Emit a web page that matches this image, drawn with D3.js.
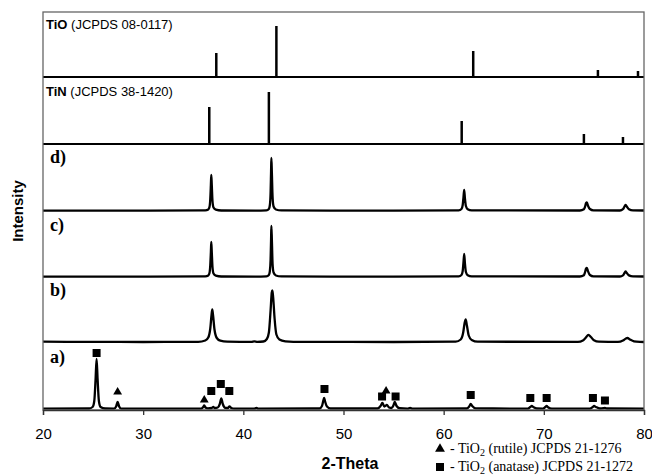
<!DOCTYPE html>
<html>
<head>
<meta charset="utf-8">
<script src="https://cdn.jsdelivr.net/npm/d3@7"></script>
<style>
body { margin: 0; background: #fff; }
svg { display: block; }
</style>
</head>
<body>
<div id="chart"></div>
<script>
// reference patterns (stick lines)
var tioPos = [37.3, 43.3, 62.95, 75.4, 79.4];
var tioInt = [24, 51, 26, 7, 6];
var tinPos = [36.6, 42.55, 61.8, 74.0, 77.9];
var tinInt = [37, 52, 23, 10, 7];

// measured patterns: [2theta, intensity]
var patternD = [[20,0.3],[30,0.4],[36.2,0.6],[36.5,1.5],[36.62,4],[36.7,12],[36.76,26],[36.8,36],[36.85,26],[36.92,10],[37.02,3.5],[37.25,1.3],[37.8,0.5],
  [41.2,0.4],[42.3,0.6],[42.55,2],[42.65,6],[42.72,18],[42.77,40],[42.8,53],[42.85,38],[42.92,14],[43.02,4.5],[43.25,1.5],[43.8,0.6],
  [55,0.4],[61.5,0.6],[61.78,2],[61.9,6],[61.98,14],[62.05,21],[62.12,13],[62.22,5],[62.4,1.8],[62.8,0.6],
  [73.6,0.5],[74.0,1.8],[74.12,4.5],[74.22,8],[74.3,8.5],[74.42,5],[74.6,2],[74.95,0.7],
  [77.6,0.5],[77.9,1.8],[78.05,4.5],[78.15,6],[78.28,4.5],[78.5,1.8],[78.9,0.6],[80,0.5]];

var patternC = [[20,0.3],[30,0.4],[36.2,0.6],[36.5,1.5],[36.62,4],[36.7,12],[36.76,25],[36.8,35],[36.85,25],[36.92,10],[37.02,3.5],[37.25,1.3],[37.8,0.5],
  [41.2,0.4],[42.3,0.6],[42.55,2],[42.65,6],[42.72,17],[42.77,38],[42.8,51],[42.85,37],[42.92,13],[43.02,4.5],[43.25,1.5],[43.8,0.6],
  [55,0.4],[61.5,0.6],[61.78,2],[61.9,6],[61.98,15],[62.05,23],[62.12,14],[62.22,5],[62.4,1.8],[62.8,0.6],
  [73.6,0.5],[74.0,1.8],[74.12,5],[74.22,8.5],[74.3,9],[74.42,5.5],[74.6,2],[74.95,0.7],
  [77.6,0.5],[77.9,1.6],[78.05,4],[78.15,5.5],[78.28,4],[78.5,1.6],[78.9,0.6],[80,0.5]];

var patternB = [[20,0.8],[25,0.6],[30,0.5],[35.5,0.7],[36.2,2],[36.5,5],[36.7,14],[36.82,27],[36.9,33],[36.98,27],[37.12,13],[37.35,4.5],[37.7,1.8],[38.4,0.8],
  [40.8,0.6],[41.1,1.2],[41.4,0.7],[42.0,1],[42.35,3.5],[42.55,10],[42.72,32],[42.84,50],[42.9,52],[42.98,45],[43.12,24],[43.3,8],[43.6,3],[44.2,1.2],[45,0.7],
  [55,0.5],[61.2,0.8],[61.7,3],[61.95,10],[62.1,20],[62.2,23],[62.32,17],[62.5,7],[62.8,2.5],[63.4,0.8],
  [73.4,0.6],[73.9,2],[74.2,5],[74.45,7.7],[74.7,5.5],[75.0,2.2],[75.5,0.8],
  [77.4,0.6],[77.9,2],[78.2,4],[78.35,4.5],[78.6,3],[79.0,1.2],[79.6,0.6],[80,0.5]];

var patternA = [[20,0.3],[24.6,0.5],[24.95,2],[25.12,8],[25.25,30],[25.35,50],[25.45,30],[25.58,8],[25.75,2],[26.2,0.5],
  [27.1,0.4],[27.3,2.5],[27.45,7],[27.6,2.5],[27.8,0.4],
  [35.8,0.4],[36.0,2],[36.1,3.5],[36.22,1.5],[36.45,0.6],[36.85,1],[37.0,2],[37.15,1],[37.45,1.5],[37.65,5],[37.8,10.5],[37.95,5],[38.2,1.2],[38.45,1],[38.62,2.5],[38.8,1],[39.1,0.4],
  [41.1,0.4],[41.3,1.2],[41.5,0.4],
  [47.6,0.5],[47.85,3],[48.0,9],[48.07,11],[48.15,8],[48.35,2.5],[48.7,0.5],
  [53.4,0.5],[53.7,3],[53.88,6],[54.08,2.5],[54.33,4],[54.55,1.5],[54.8,1],[55.0,4],[55.12,7],[55.3,3],[55.6,0.8],
  [56.4,0.4],[56.65,1.2],[56.9,0.4],
  [62.3,0.5],[62.55,2.5],[62.7,5],[62.85,3],[63.2,0.6],
  [68.4,0.4],[68.65,2],[68.8,3],[68.95,2],[69.3,0.5],
  [69.9,0.4],[70.15,2],[70.28,3],[70.42,1.8],[70.8,0.4],
  [74.6,0.4],[74.88,2],[75.02,3],[75.2,2],[75.6,0.5],[75.95,0.8],[76.1,1.2],[76.3,0.5],[80,0.3]];

// phase markers on pattern a: [2theta, height, kind]
var markers = [[25.35,56,"s"],[27.45,18,"t"],[36.1,10,"t"],[36.8,18,"s"],[37.75,25,"s"],[38.6,18,"s"],
  [48.1,20,"s"],[53.85,12.5,"s"],[54.25,19,"t"],[55.2,12.5,"s"],[62.7,14,"s"],
  [68.65,11,"s"],[70.28,11,"s"],[74.9,11,"s"],[76.1,8.5,"s"]];

var xTicks = [20, 30, 40, 50, 60, 70, 80];

var svgWidth = 652, svgHeight = 475;
var margin = {top: 12, right: 8, bottom: 65, left: 43};
var width = svgWidth - margin.left - margin.right;
var height = svgHeight - margin.top - margin.bottom;

var svg = d3.select("#chart").append("svg")
  .attr("width", svgWidth)
  .attr("height", svgHeight);

var chartGroup = svg.append("g")
  .attr("transform", `translate(${margin.left}, ${margin.top})`);

var xScale = d3.scaleLinear().domain([20, 80]).range([0, width]);
var yScale = d3.scaleLinear().domain([0, height]).range([height, 0]);

// stacking offsets for each trace
var offA = 1, offB = 67.5, offC = 133, offD = 199, offTiN = 266, offTiO = 333;

var line = function(off) {
  return d3.line()
    .x(d => xScale(d[0]))
    .y(d => yScale(off + d[1]))
    .curve(d3.curveMonotoneX);
};

[[patternA, offA], [patternB, offB], [patternC, offC], [patternD, offD]].forEach(function(p) {
  chartGroup.append("path")
    .datum(p[0])
    .attr("d", line(p[1]))
    .attr("fill", "none")
    .attr("stroke", "#000")
    .attr("stroke-width", 2.3)
    .attr("stroke-linejoin", "round");
});

// stick panels
function sticks(pos, ints, off) {
  chartGroup.append("line")
    .attr("x1", 0).attr("x2", width)
    .attr("y1", yScale(off)).attr("y2", yScale(off))
    .attr("stroke", "#000").attr("stroke-width", 2.2);
  chartGroup.selectAll(null)
    .data(pos)
    .enter()
    .append("line")
    .attr("x1", d => xScale(d)).attr("x2", d => xScale(d))
    .attr("y1", yScale(off))
    .attr("y2", (d, i) => yScale(off + ints[i]))
    .attr("stroke", "#000").attr("stroke-width", 2.5);
}
sticks(tinPos, tinInt, offTiN);
sticks(tioPos, tioInt, offTiO);

// markers
var sq = 8;
chartGroup.selectAll(".sq")
  .data(markers.filter(d => d[2] == "s"))
  .enter()
  .append("rect")
  .attr("x", d => xScale(d[0]) - sq / 2)
  .attr("y", d => yScale(offA + d[1]) - sq / 2)
  .attr("width", sq).attr("height", sq)
  .attr("fill", "#000");

chartGroup.selectAll(".tri")
  .data(markers.filter(d => d[2] == "t"))
  .enter()
  .append("path")
  .attr("d", d3.symbol().type(d3.symbolTriangle).size(34))
  .attr("transform", d => `translate(${xScale(d[0])}, ${yScale(offA + d[1]) + 1})`)
  .attr("fill", "#000");

// frame
chartGroup.append("rect")
  .attr("width", width).attr("height", height)
  .attr("fill", "none")
  .attr("stroke", "#666").attr("stroke-width", 1.3);

// x axis
var xAxis = d3.axisBottom(xScale).tickValues(xTicks).tickSize(5).tickPadding(13);
var gx = chartGroup.append("g")
  .attr("transform", `translate(0, ${height})`)
  .call(xAxis);
gx.select(".domain").attr("stroke", "#333").attr("stroke-width", 1.3);
gx.selectAll(".tick line").attr("stroke", "#333").attr("stroke-width", 1.3);
gx.selectAll("text")
  .attr("font-family", "Liberation Sans, Arial, sans-serif")
  .attr("font-size", "15px")
  .attr("fill", "#000");

// axis titles
svg.append("text")
  .attr("x", 350).attr("y", 469)
  .attr("text-anchor", "middle")
  .attr("font-family", "Liberation Sans, Arial, sans-serif")
  .attr("font-weight", "bold")
  .attr("font-size", "16px")
  .text("2-Theta");

svg.append("text")
  .attr("transform", "translate(23, 211) rotate(-90)")
  .attr("text-anchor", "middle")
  .attr("font-family", "Liberation Sans, Arial, sans-serif")
  .attr("font-weight", "bold")
  .attr("font-size", "15px")
  .text("Intensity");

// panel titles
var titles = [["TiO", " (JCPDS 08-0117)", 28.5], ["TiN", " (JCPDS 38-1420)", 95.5]];
titles.forEach(function(t) {
  var tx = svg.append("text")
    .attr("x", 46).attr("y", t[2])
    .attr("font-family", "Liberation Sans, Arial, sans-serif")
    .attr("font-size", "13px");
  tx.append("tspan").attr("font-weight", "bold").text(t[0]);
  tx.append("tspan").text(t[1]);
});

var letters = [["d)", 163], ["c)", 231], ["b)", 296], ["a)", 363]];
svg.selectAll(".lbl")
  .data(letters)
  .enter()
  .append("text")
  .attr("x", 50).attr("y", d => d[1])
  .attr("font-family", "Liberation Serif, Times New Roman, serif")
  .attr("font-weight", "bold")
  .attr("font-size", "18px")
  .text(d => d[0]);

// legend
var legend = svg.append("g").attr("font-family", "Liberation Serif, Times New Roman, serif").attr("font-size", "14px");
legend.append("path")
  .attr("d", d3.symbol().type(d3.symbolTriangle).size(42))
  .attr("transform", "translate(440, 449)");
legend.append("rect").attr("x", 436).attr("y", 463).attr("width", 8).attr("height", 8);
var l1 = legend.append("text").attr("x", 450).attr("y", 453);
l1.append("tspan").text("- TiO");
l1.append("tspan").attr("font-size", "10px").attr("dy", 3).text("2");
l1.append("tspan").attr("dy", -3).text(" (rutile) JCPDS 21-1276");
var l2 = legend.append("text").attr("x", 450).attr("y", 471);
l2.append("tspan").text("- TiO");
l2.append("tspan").attr("font-size", "10px").attr("dy", 3).text("2");
l2.append("tspan").attr("dy", -3).text(" (anatase) JCPDS 21-1272");
</script>
</body>
</html>
